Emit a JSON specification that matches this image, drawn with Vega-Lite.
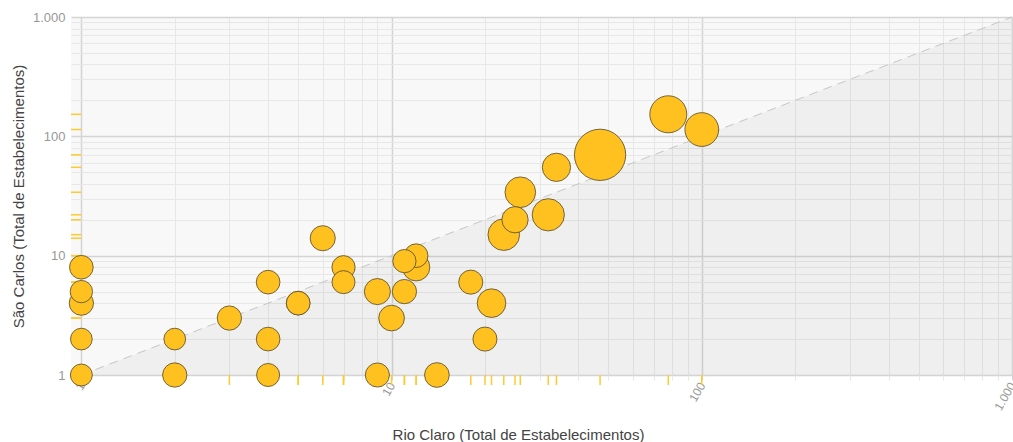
{
  "$schema": "https://vega.github.io/schema/vega-lite/v6.json",
  "width": 941,
  "height": 358,
  "autosize": {"type": "none"},
  "padding": {"left": 71, "top": 17, "right": 1, "bottom": 67},
  "background": "#ffffff",
  "config": {
    "font": "Liberation Sans",
    "view": {"fill": "#f8f8f8", "stroke": null}
  },
  "datasets": {
    "setores": [
      {"rio_claro": 47, "sao_carlos": 70, "empregos": 263},
      {"rio_claro": 78, "sao_carlos": 153, "empregos": 137},
      {"rio_claro": 100, "sao_carlos": 114, "empregos": 114},
      {"rio_claro": 32, "sao_carlos": 22, "empregos": 104},
      {"rio_claro": 23, "sao_carlos": 15, "empregos": 100},
      {"rio_claro": 26, "sao_carlos": 34, "empregos": 94},
      {"rio_claro": 21, "sao_carlos": 4, "empregos": 82},
      {"rio_claro": 34, "sao_carlos": 55, "empregos": 80},
      {"rio_claro": 12, "sao_carlos": 8, "empregos": 75},
      {"rio_claro": 25, "sao_carlos": 20, "empregos": 69},
      {"rio_claro": 9, "sao_carlos": 5, "empregos": 68},
      {"rio_claro": 10, "sao_carlos": 3, "empregos": 66},
      {"rio_claro": 6, "sao_carlos": 14, "empregos": 63},
      {"rio_claro": 14, "sao_carlos": 1, "empregos": 61},
      {"rio_claro": 1, "sao_carlos": 4, "empregos": 59},
      {"rio_claro": 2, "sao_carlos": 1, "empregos": 59},
      {"rio_claro": 3, "sao_carlos": 3, "empregos": 59},
      {"rio_claro": 11, "sao_carlos": 5, "empregos": 59},
      {"rio_claro": 9, "sao_carlos": 1, "empregos": 58},
      {"rio_claro": 18, "sao_carlos": 6, "empregos": 58},
      {"rio_claro": 20, "sao_carlos": 2, "empregos": 58},
      {"rio_claro": 1, "sao_carlos": 8, "empregos": 56},
      {"rio_claro": 4, "sao_carlos": 2, "empregos": 56},
      {"rio_claro": 4, "sao_carlos": 6, "empregos": 56},
      {"rio_claro": 5, "sao_carlos": 4, "empregos": 56},
      {"rio_claro": 5, "sao_carlos": 4, "empregos": 56},
      {"rio_claro": 12, "sao_carlos": 10, "empregos": 56},
      {"rio_claro": 7, "sao_carlos": 8, "empregos": 54},
      {"rio_claro": 11, "sao_carlos": 9, "empregos": 54},
      {"rio_claro": 4, "sao_carlos": 1, "empregos": 53},
      {"rio_claro": 7, "sao_carlos": 6, "empregos": 53},
      {"rio_claro": 1, "sao_carlos": 5, "empregos": 50},
      {"rio_claro": 1, "sao_carlos": 1, "empregos": 48},
      {"rio_claro": 1, "sao_carlos": 2, "empregos": 47},
      {"rio_claro": 2, "sao_carlos": 2, "empregos": 47}
    ],
    "diagonal": [
      {"rio_claro": 1, "sao_carlos": 1},
      {"rio_claro": 1000, "sao_carlos": 1000}
    ]
  },
  "encoding": {
    "x": {
      "field": "rio_claro",
      "type": "quantitative",
      "title": "Rio Claro (Total de Estabelecimentos)",
      "scale": {"type": "log", "domain": [0.926, 1000], "nice": false},
      "axis": {
        "values": [1,2,3,4,5,6,7,8,9,10,20,30,40,50,60,70,80,90,100,200,300,400,500,600,700,800,900,1000],
        "grid": true,
        "gridColor": {"condition": {"test": "datum.value == 1 || datum.value == 10 || datum.value == 100 || datum.value == 1000", "value": "#d4d4d4"}, "value": "#e7e7e7"},
        "gridWidth": {"condition": {"test": "datum.value == 1 || datum.value == 10 || datum.value == 100 || datum.value == 1000", "value": 1.5}, "value": 1},
        "ticks": true,
        "tickSize": 5,
        "tickColor": {"condition": {"test": "datum.value == 1 || datum.value == 10 || datum.value == 100 || datum.value == 1000", "value": "#d4d4d4"}, "value": "#e7e7e7"},
        "domain": false,
        "labelExpr": "datum.value == 1000 ? '1.000' : ((datum.value == 1 || datum.value == 10 || datum.value == 100) ? format(datum.value, 'd') : '')",
        "labelAngle": -60,
        "labelColor": "#999999",
        "labelFontSize": 12,
        "labelPadding": 3,
        "labelOverlap": false,
        "labelFlush": false,
        "labelBound": false,
        "titleColor": "#444444",
        "titleFontSize": 15,
        "titleFontWeight": "normal",
        "titleX": 447,
        "titleY": 59,
        "titleBaseline": "middle"
      }
    },
    "y": {
      "field": "sao_carlos",
      "type": "quantitative",
      "title": "São Carlos (Total de Estabelecimentos)",
      "scale": {"type": "log", "domain": [1, 1000], "nice": false},
      "axis": {
        "values": [1,2,3,4,5,6,7,8,9,10,20,30,40,50,60,70,80,90,100,200,300,400,500,600,700,800,900,1000],
        "grid": true,
        "gridColor": {"condition": {"test": "datum.value == 1 || datum.value == 10 || datum.value == 100 || datum.value == 1000", "value": "#d4d4d4"}, "value": "#e7e7e7"},
        "gridWidth": {"condition": {"test": "datum.value == 1 || datum.value == 10 || datum.value == 100 || datum.value == 1000", "value": 1.5}, "value": 1},
        "ticks": false,
        "domain": false,
        "labelExpr": "datum.value == 1000 ? '1.000' : ((datum.value == 1 || datum.value == 10 || datum.value == 100) ? format(datum.value, 'd') : '')",
        "labelColor": "#999999",
        "labelFontSize": 13,
        "labelPadding": 6,
        "labelOverlap": false,
        "labelFlush": false,
        "labelBound": false,
        "titleColor": "#444444",
        "titleFontSize": 15,
        "titleFontWeight": "normal",
        "titleX": -53,
        "titleY": 179,
        "titleAngle": -90,
        "titleBaseline": "middle",
        "titleAlign": "center"
      }
    }
  },
  "layer": [
    {
      "data": {"name": "diagonal"},
      "mark": {"type": "area", "fill": "#000000", "fillOpacity": 0.035},
      "encoding": {"y2": {"datum": 1}}
    },
    {
      "data": {"name": "diagonal"},
      "mark": {"type": "line", "stroke": "#c6c6c6", "strokeWidth": 1, "strokeDash": [9, 6]},
      "encoding": {}
    },
    {
      "data": {"name": "setores"},
      "mark": {"type": "rule", "stroke": "#ffca2e", "strokeWidth": 1.5},
      "encoding": {
        "y": {"datum": 1, "title": "São Carlos (Total de Estabelecimentos)"},
        "y2": {"datum": 0.825}
      }
    },
    {
      "data": {"name": "setores"},
      "mark": {"type": "rule", "stroke": "#ffca2e", "strokeWidth": 1.5},
      "encoding": {
        "x": {"datum": 0.926, "title": "Rio Claro (Total de Estabelecimentos)"},
        "x2": {"datum": 1}
      }
    },
    {
      "data": {"name": "setores"},
      "mark": {"type": "circle", "fill": "#fec11f", "fillOpacity": 1, "stroke": "#5b5030", "strokeWidth": 1, "strokeOpacity": 0.85},
      "encoding": {
        "size": {"field": "empregos", "type": "quantitative", "scale": {"type": "linear", "domain": [0, 263], "range": [0, 2630], "zero": true}, "legend": null},
        "order": {"field": "empregos", "sort": "descending"}
      }
    }
  ]
}
